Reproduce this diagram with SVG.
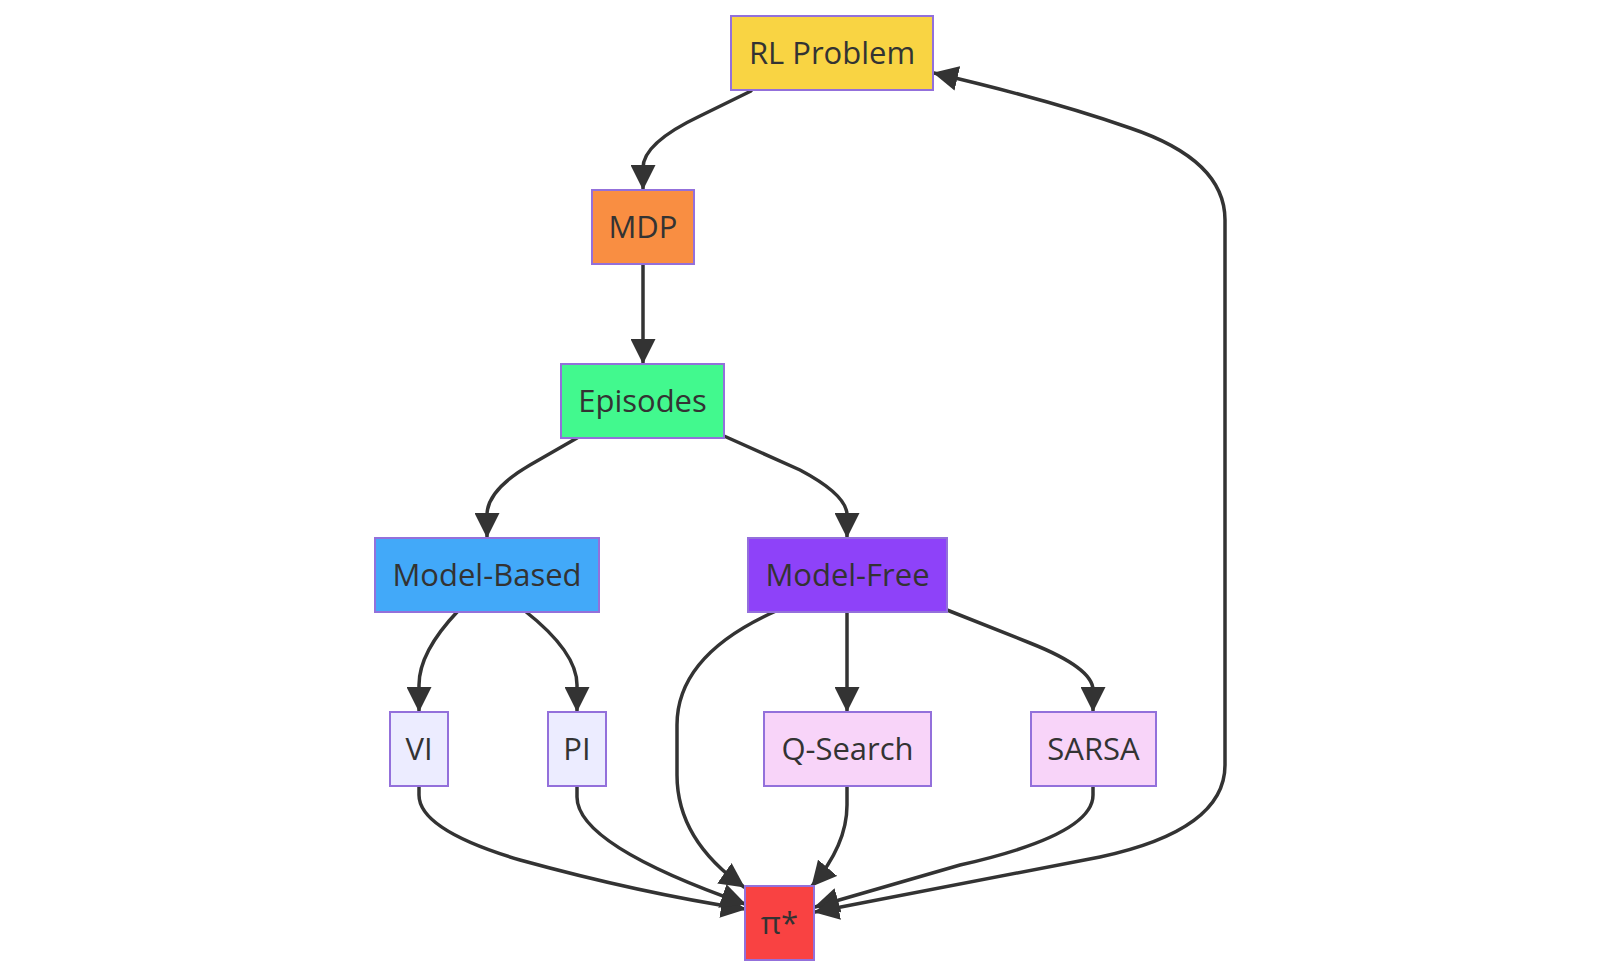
<svg xmlns="http://www.w3.org/2000/svg" width="1600" height="976" viewBox="0 0 1600 976">
<style>
.node rect{stroke:#9370DB;stroke-width:2}
.node text{font-family:"Open Sans","Noto Sans","DejaVu Sans",sans-serif;font-size:31px;fill:#333;text-anchor:middle}
.edge{fill:none;stroke:#333;stroke-width:3.5;stroke-linecap:round}
</style>
<defs>
<marker id="ah" markerUnits="userSpaceOnUse" viewBox="0 0 24 24" refX="23" refY="12" markerWidth="25" markerHeight="25" orient="auto-start-reverse">
<path d="M0,0 L24,12 L0,24 z" fill="#333"/>
</marker>
</defs>
<rect width="1600" height="976" fill="#fff"/>
<g id="edges">
<path class="edge" marker-end="url(#ah)" d="M751,91 L700,116 Q643,143 643,168 L643,189"/>
<path class="edge" marker-end="url(#ah)" d="M643,264 L643,363"/>
<path class="edge" marker-end="url(#ah)" d="M577,438 L530,465 Q487,490 487,515 L487,537"/>
<path class="edge" marker-end="url(#ah)" d="M724,436 L800,470 Q847,495 847,515 L847,537"/>
<path class="edge" marker-end="url(#ah)" d="M458,611 Q419,652 419,685 L419,711"/>
<path class="edge" marker-end="url(#ah)" d="M525,611 Q577,652 577,685 L577,711"/>
<path class="edge" marker-end="url(#ah)" d="M847,611 L847,711"/>
<path class="edge" marker-end="url(#ah)" d="M947,610 L1030,643 Q1093,668 1093,690 L1093,711"/>
<path class="edge" marker-end="url(#ah)" d="M776,611 Q677,655 677,725 L677,775 Q677,840 744,887"/>
<path class="edge" marker-end="url(#ah)" d="M419,785 L419,795 Q419,830 520,860 Q640,893 745,909"/>
<path class="edge" marker-end="url(#ah)" d="M577,785 L577,797 Q577,845 745,904"/>
<path class="edge" marker-end="url(#ah)" d="M847,785 L847,805 Q847,845 812,886"/>
<path class="edge" marker-end="url(#ah)" d="M1093,785 L1093,795 Q1093,835 960,865 L815,907"/>
<path class="edge" marker-start="url(#ah)" marker-end="url(#ah)" d="M815,912 L1100,857 Q1225,830 1225,765 L1225,220 Q1225,160 1130,128 Q1050,100 934,73"/>
</g>
<g id="rl" class="node"><rect x="731" y="16" width="202" height="74" fill="#f9d443"/><text x="832" y="64">RL Problem</text></g>
<g id="mdp" class="node"><rect x="592" y="190" width="102" height="74" fill="#f98e42"/><text x="643" y="238">MDP</text></g>
<g id="episodes" class="node"><rect x="561" y="364" width="163" height="74" fill="#42f98e"/><text x="642.5" y="412">Episodes</text></g>
<g id="modelbased" class="node"><rect x="375" y="538" width="224" height="74" fill="#42a9f9"/><text x="487" y="586">Model-Based</text></g>
<g id="modelfree" class="node"><rect x="748" y="538" width="199" height="74" fill="#8e42f9"/><text x="847.5" y="586">Model-Free</text></g>
<g id="vi" class="node"><rect x="390" y="712" width="58" height="74" fill="#ececff"/><text x="419" y="760">VI</text></g>
<g id="pi" class="node"><rect x="548" y="712" width="58" height="74" fill="#ececff"/><text x="577" y="760">PI</text></g>
<g id="qsearch" class="node"><rect x="764" y="712" width="167" height="74" fill="#f8d4f9"/><text x="847.5" y="760">Q-Search</text></g>
<g id="sarsa" class="node"><rect x="1031" y="712" width="125" height="74" fill="#f8d4f9"/><text x="1093.5" y="760">SARSA</text></g>
<g id="pistar" class="node"><rect x="745" y="886" width="69" height="74" fill="#f94242"/><text x="779.5" y="934">π*</text></g>
</svg>
